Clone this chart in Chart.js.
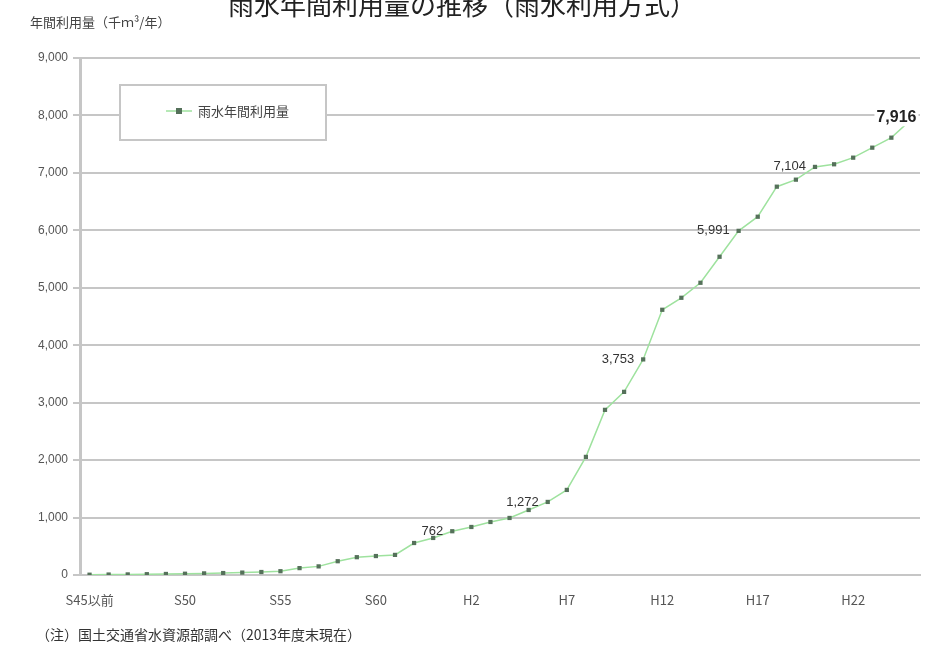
<!DOCTYPE html>
<html>
<head>
<meta charset="utf-8">
<script src="https://cdn.jsdelivr.net/npm/chart.js"></script>
<style>
body { margin: 0; background: #fff; font-family: "Noto Sans CJK JP", "Noto Sans", sans-serif; }
#wrap { position: relative; width: 934px; height: 652px; overflow: hidden; }
#title { position: absolute; left: 228px; top: -9px; font-size: 26px; line-height: 26px; color: #222; white-space: nowrap; }
#unit { position: absolute; left: 30px; top: 14px; font-size: 13px; line-height: 16px; color: #444; white-space: nowrap; }
#note { position: absolute; left: 36px; top: 625px; font-size: 14px; line-height: 18px; color: #333; white-space: nowrap; }
canvas { position: absolute; left: 0; top: 0; }
</style>
</head>
<body>
<div id="wrap">
  <canvas id="myChart" width="934" height="652"></canvas>
  <div id="title">雨水年間利用量の推移（雨水利用方式）</div>
  <div id="unit">年間利用量（千ｍ³/年）</div>
  <div id="note">（注）国土交通省水資源部調べ（2013年度末現在）</div>
</div>
<script>
// 年度 (S45以前 〜 H25)
var years = [
    'S45以前', 'S46', 'S47', 'S48', 'S49', 'S50', 'S51', 'S52', 'S53', 'S54',
    'S55', 'S56', 'S57', 'S58', 'S59', 'S60', 'S61', 'S62', 'S63', 'H元',
    'H2', 'H3', 'H4', 'H5', 'H6', 'H7', 'H8', 'H9', 'H10', 'H11',
    'H12', 'H13', 'H14', 'H15', 'H16', 'H17', 'H18', 'H19', 'H20', 'H21',
    'H22', 'H23', 'H24', 'H25'
];
// 年間利用量 (千m3/年)
var usage = [
    5, 8, 10, 14, 18, 22, 28, 34, 42, 52,
    66, 120, 150, 240, 310, 330, 350, 557, 645, 762,
    836, 923, 993, 1132, 1272, 1481, 2056, 2875, 3188, 3753,
    4617, 4826, 5087, 5540, 5991, 6237, 6760, 6882, 7104, 7150,
    7265, 7439, 7613, 7916
];
var labelled = [19, 24, 29, 34, 38, 43];
var legendName = '雨水年間利用量';
var yTicks = [0, 1000, 2000, 3000, 4000, 5000, 6000, 7000, 8000, 9000];

var lineColor = '#9ee29e';
var markColor = '#55715a';
var gridColor = '#c6c6c6';

function fmt(v) {
    return v.toLocaleString('en-US');
}

var extras = {
    id: 'extras',
    afterDatasetsDraw: function(chart) {
        var c = chart.ctx;
        var meta = chart.getDatasetMeta(0);
        c.save();
        c.textBaseline = 'middle';
        labelled.forEach(function(i) {
            var p = meta.data[i];
            var txt = fmt(usage[i]);
            if (i === usage.length - 1) {
                c.font = 'bold 16px "Liberation Sans", sans-serif';
                c.textAlign = 'center';
                var w = c.measureText(txt).width;
                c.fillStyle = '#fff';
                c.fillRect(p.x - 14 - w / 2 - 2, p.y - 12, w + 4, 18);
                c.fillStyle = '#222';
                c.fillText(txt, p.x - 14, p.y - 3);
            } else {
                c.font = '13px "Liberation Sans", sans-serif';
                c.textAlign = 'right';
                c.fillStyle = '#333';
                c.fillText(txt, p.x - 9, p.y);
            }
        });

        // legend box
        c.fillStyle = '#fff';
        c.fillRect(120, 85, 206, 55);
        c.strokeStyle = gridColor;
        c.lineWidth = 2;
        c.strokeRect(120, 85, 206, 55);
        c.strokeStyle = lineColor;
        c.lineWidth = 1.5;
        c.beginPath();
        c.moveTo(166, 111);
        c.lineTo(192, 111);
        c.stroke();
        c.fillStyle = markColor;
        c.fillRect(176, 108, 6, 6);
        c.fillStyle = '#444';
        c.font = '13px "Noto Sans CJK JP"';
        c.textAlign = 'left';
        c.fillText(legendName, 198, 111);
        c.restore();
    }
};

var ctx = document.getElementById('myChart').getContext('2d');
var myLineChart = new Chart(ctx, {
    type: 'line',
    data: {
        labels: years,
        datasets: [{
            label: legendName,
            data: usage,
            borderColor: lineColor,
            borderWidth: 1.5,
            pointStyle: 'rect',
            pointRadius: 3,
            pointBackgroundColor: markColor,
            pointBorderColor: markColor,
            pointBorderWidth: 0,
            tension: 0
        }]
    },
    options: {
        responsive: false,
        animation: false,
        layout: { padding: { left: 0, right: 14, top: 58, bottom: 0 } },
        plugins: {
            legend: { display: false },
            tooltip: { enabled: false }
        },
        scales: {
            x: {
                offset: true,
                grid: { display: false },
                border: { display: true, color: gridColor, width: 2 },
                ticks: {
                    autoSkip: false,
                    maxRotation: 0,
                    padding: 9,
                    color: '#555',
                    font: { family: '"Noto Sans CJK JP"', size: 13 },
                    callback: function(v, i) { return i % 5 === 0 ? years[i] : ''; }
                },
                afterFit: function(s) { s.height = 77; }
            },
            y: {
                min: 0,
                max: 9000,
                afterBuildTicks: function(s) {
                    s.ticks = yTicks.map(function(v) { return { value: v }; });
                },
                grid: { color: gridColor, lineWidth: 2, tickLength: 7 },
                border: { display: true, color: gridColor, width: 3 },
                ticks: {
                    padding: 5,
                    color: '#555',
                    font: { family: '"Liberation Sans"', size: 12 },
                    callback: function(v) { return fmt(v); }
                },
                afterFit: function(s) { s.width = 80; }
            }
        }
    },
    plugins: [extras]
});
</script>
</body>
</html>
